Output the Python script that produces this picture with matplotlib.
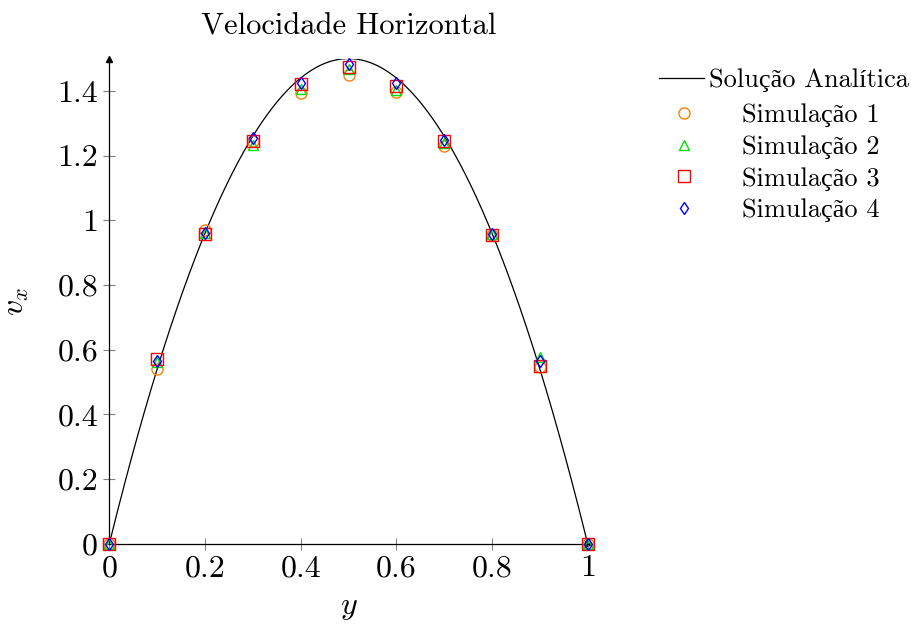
import numpy as np
import matplotlib
matplotlib.use("Agg")
import matplotlib.pyplot as plt
from matplotlib.ticker import FuncFormatter

plt.rcParams['font.family'] = ['cmr10', 'Liberation Serif']
plt.rcParams['mathtext.fontset'] = 'cm'
plt.rcParams['axes.unicode_minus'] = False

# posicoes y (eixo horizontal) das simulacoes
y_pts = [0.0, 0.1, 0.2, 0.3, 0.4, 0.5, 0.6, 0.7, 0.8, 0.9, 1.0]

# velocidades
sim1 = [0.0, 0.54, 0.971, 1.245, 1.393, 1.449, 1.397, 1.230, 0.955, 0.547, 0.0]
sim2 = [0.0, 0.562, 0.960, 1.234, 1.405, 1.467, 1.402, 1.240, 0.957, 0.578, 0.0]
sim3 = [0.0, 0.570, 0.959, 1.246, 1.420, 1.475, 1.415, 1.244, 0.956, 0.550, 0.0]
sim4 = [0.0, 0.565, 0.962, 1.255, 1.426, 1.482, 1.424, 1.248, 0.957, 0.564, 0.0]

# solucao analitica: v_x = 4 * v_max * y * (1 - y)
v_max = 1.5
y_an = np.linspace(0, 1, 300)
v_an = 4 * v_max * y_an * (1 - y_an)

labels = ['Simulação 1', 'Simulação 2', 'Simulação 3', 'Simulação 4']
cores = ['#FF8000', '#00E000', '#FF0000', '#0000FF']
marcas = ['o', '^', 's', 'd']
tamanhos = [8, 7.5, 8, 6.2]

fig = plt.figure(figsize=(9.17, 6.28), dpi=100)
ax = fig.add_axes([0.1192, 0.1341, 0.5217, 0.7726])

linha, = ax.plot(y_an, v_an, color='black', lw=0.9, zorder=2)

handles = []
for dados, lab, c, m, s in zip([sim1, sim2, sim3, sim4], labels, cores, marcas, tamanhos):
    h, = ax.plot(y_pts, dados, linestyle='none', marker=m, ms=s, mfc='none',
                 mec=c, mew=1.0, clip_on=False, zorder=3, label=lab)
    handles.append(h)

ax.set_xlim(0, 1)
ax.set_ylim(0, 1.5)
ax.set_xticks([0, 0.2, 0.4, 0.6, 0.8, 1])
ax.set_yticks([0, 0.2, 0.4, 0.6, 0.8, 1, 1.2, 1.4])
fmt = FuncFormatter(lambda v, p: '%g' % round(v, 2))
ax.xaxis.set_major_formatter(fmt)
ax.yaxis.set_major_formatter(fmt)

for lado in ['top', 'right']:
    ax.spines[lado].set_visible(False)
for lado in ['left', 'bottom']:
    ax.spines[lado].set_linewidth(0.9)
ax.tick_params(direction='inout', length=8, width=0.8, color='#808080',
               labelsize=23, pad=4)

# setas nos eixos
ax.plot(0, 1, marker='^', color='black', ms=5, transform=ax.transAxes, clip_on=False)
ax.plot(1, 0, marker='>', color='black', ms=5, transform=ax.transAxes, clip_on=False, zorder=1)

ax.set_xlabel('$y$', fontsize=23, labelpad=9)
ax.set_ylabel('$v_x$', fontsize=23, labelpad=19)
ax.set_title('Velocidade Horizontal', fontsize=22, pad=17)

leg1 = ax.legend([linha], ['Solução Analítica'], loc='upper left',
                 bbox_to_anchor=(1.127, 1.0015), frameon=False, fontsize=19,
                 handlelength=1.7, handletextpad=0.2, borderaxespad=0)
ax.add_artist(leg1)
ax.legend(handles=handles, loc='upper left', bbox_to_anchor=(1.152, 0.929),
          frameon=False, fontsize=19, handlelength=1.0, handletextpad=1.7,
          labelspacing=0.3, borderaxespad=0)

fig.savefig('out.png', dpi=100)
